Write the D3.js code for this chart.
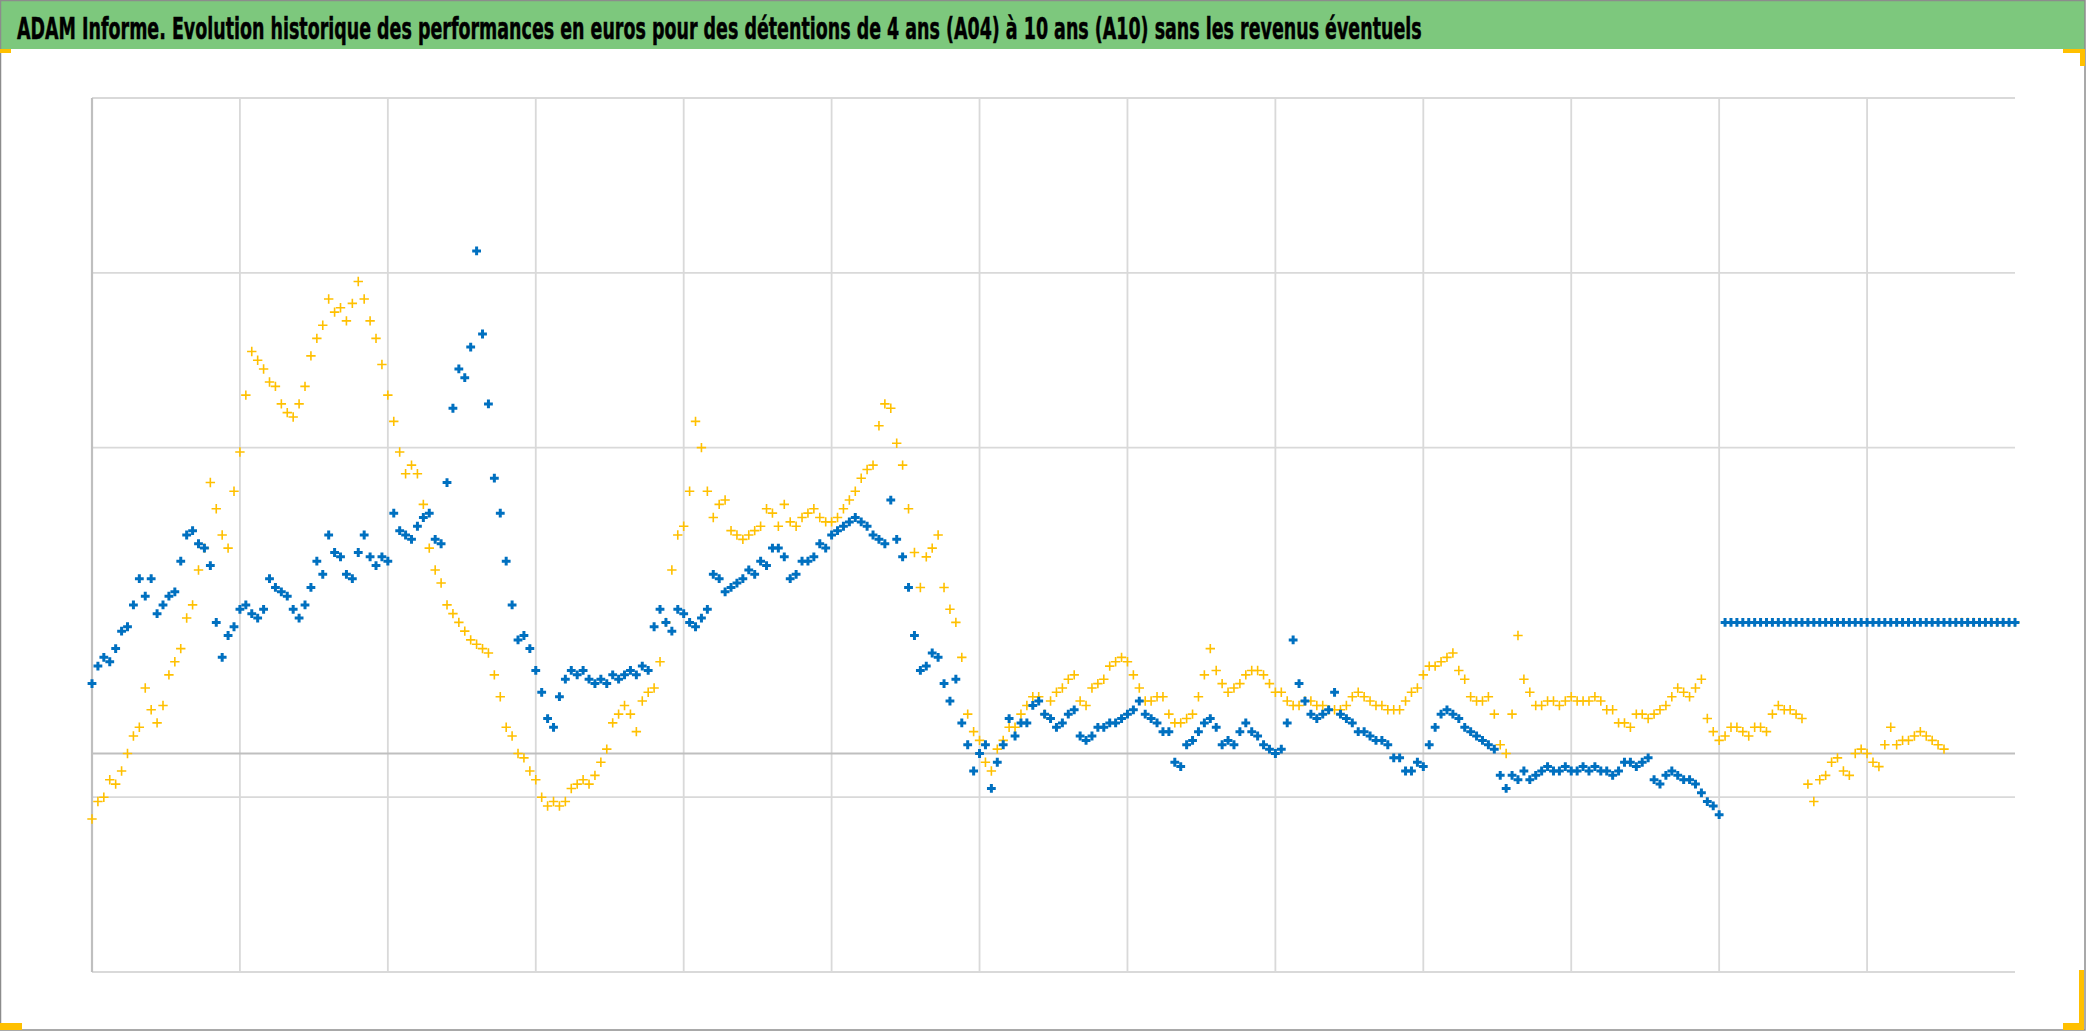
<!DOCTYPE html>
<html><head><meta charset="utf-8">
<script src="https://cdn.jsdelivr.net/npm/d3@7"></script>
<style>html,body{margin:0;padding:0;background:#fff;overflow:hidden}</style>
</head><body>
<svg id="chart" width="2086" height="1031"></svg>
<script>
// ---------- data ----------
const titleText = "ADAM Informe. Evolution historique des performances en euros pour des détentions de 4 ans (A04) à 10 ans (A10) sans les revenus éventuels";
const xDomain = [0, 13];
const xGridValues = [0, 1, 2, 3, 4, 5, 6, 7, 8, 9, 10, 11, 12];
const yDomain = [-50, 150];
const yGridValues = [-50, -10, 70, 110, 150];
const yAxisCross = 0;
const sampleStart = 0;
const sampleStep = 0.04;

// blue series
const seriesA04 = [
  16,20,22,21,24,28,29,34,40,36,40,32,34,36,37,44,50,51,48,47,43,30,22,27,29,
  33,34,32,31,33,40,38,37,36,33,31,34,38,44,41,50,46,45,41,40,46,50,45,43,45,
  44,55,51,50,49,52,54,55,49,48,62,79,88,86,93,115,96,80,63,55,44,34,26,27,24,
  19,14,8,6,13,17,19,18,19,17,16,17,16,18,17,18,19,18,20,19,29,33,30,28,33,
  32,30,29,31,33,41,40,37,38,39,40,42,41,44,43,47,47,45,40,41,44,44,45,48,47,
  50,51,52,53,54,53,52,50,49,48,58,49,45,38,27,19,20,23,22,16,12,17,7,2,-4,
  0,2,-8,-2,2,8,4,7,7,11,12,9,8,6,7,9,10,4,3,4,6,6,7,7,8,
  9,10,12,9,8,7,5,5,-2,-3,2,3,5,7,8,6,2,3,2,5,7,5,4,2,1,
  0,1,7,26,16,12,9,8,9,10,14,9,8,7,5,5,4,3,3,2,-1,-1,-4,-4,-2,
  -3,2,6,9,10,9,8,6,5,4,3,2,1,-5,-8,-5,-6,-4,-6,-5,-4,-3,-4,-4,-3,
  -4,-4,-3,-4,-3,-4,-4,-5,-4,-2,-2,-3,-2,-1,-6,-7,-5,-4,-5,-6,-6,-7,-9,-11,-12,
  -14,30,30,30,30,30,30,30,30,30,30,30,30,30,30,30,30,30,30,30,30,30,30,30,30,
  30,30,30,30,30,30,30,30,30,30,30,30,30,30,30,30,30,30,30,30,30,30,30,30,30,
  30
];
// yellow series
const seriesA10 = [
  -15,-11,-10,-6,-7,-4,0,4,6,15,10,7,11,18,21,24,31,34,42,47,62,56,50,47,60,
  69,82,92,90,88,85,84,80,78,77,80,84,91,95,98,104,101,102,99,103,108,104,99,95,89,
  82,76,69,64,66,64,57,47,42,39,34,32,30,28,26,25,24,23,18,13,6,4,0,-1,-4,
  -6,-10,-12,-11,-12,-11,-8,-7,-6,-7,-5,-2,1,7,9,11,9,5,12,14,15,21,30,42,50,
  52,60,76,70,60,54,57,58,51,50,49,50,51,52,56,55,52,57,53,52,54,55,56,54,53,
  53,54,56,58,60,63,65,66,75,80,79,71,66,56,46,38,45,47,50,38,33,30,22,9,5,
  3,-2,-4,1,3,6,6,9,11,13,13,9,12,14,15,17,18,12,11,15,16,17,20,21,22,
  21,18,15,12,12,13,13,9,7,7,8,9,13,18,24,19,16,14,15,16,18,19,19,18,16,
  14,14,12,11,11,12,12,11,11,10,10,10,11,13,14,13,12,11,11,10,10,10,12,14,15,
  18,20,20,21,22,23,19,17,13,12,12,13,9,2,0,9,27,17,14,11,11,12,12,11,12,
  13,12,12,12,13,12,10,10,7,7,6,9,9,8,9,10,11,13,15,14,13,15,17,8,5,
  3,4,6,6,5,4,6,6,5,9,11,10,10,9,8,-7,-11,-6,-5,-2,-1,-4,-5,0,1,
  0,-2,-3,2,6,2,3,3,4,5,4,3,2,1,30,30,30,30,30,30,30,30,30,30,30,
  30
];

// ---------- drawing ----------
const W = 2086, H = 1031;
const svg = d3.select("#chart");
const plot = {left: 92, right: 2015, top: 98, bottom: 972};
const x = d3.scaleLinear().domain(xDomain).range([plot.left, plot.right]);
const y = d3.scaleLinear().domain(yDomain).range([plot.bottom, plot.top]);

svg.append("rect").attr("width", W).attr("height", H).attr("fill", "#fff");

// gridlines
const grid = svg.append("g");
grid.selectAll("line.h").data(yGridValues).join("line")
  .attr("x1", plot.left).attr("x2", plot.right)
  .attr("y1", d => y(d)).attr("y2", d => y(d))
  .attr("stroke", "#d9d9d9").attr("stroke-width", 1.8);
grid.selectAll("line.v").data(xGridValues.filter(v => v !== xDomain[0])).join("line")
  .attr("x1", d => x(d)).attr("x2", d => x(d))
  .attr("y1", plot.top).attr("y2", plot.bottom)
  .attr("stroke", "#d9d9d9").attr("stroke-width", 1.8);
// axes lines
svg.append("line").attr("x1", x(xDomain[0])).attr("x2", x(xDomain[0]))
  .attr("y1", plot.top).attr("y2", plot.bottom)
  .attr("stroke", "#bfbfbf").attr("stroke-width", 2.2);
svg.append("line").attr("x1", plot.left).attr("x2", plot.right)
  .attr("y1", y(yAxisCross)).attr("y2", y(yAxisCross))
  .attr("stroke", "#bfbfbf").attr("stroke-width", 2.2);

function drawSeries(values, color, half, sw) {
  const pts = values.map((v, i) => ({x: sampleStart + i * sampleStep, y: v}));
  svg.append("g").selectAll("path").data(pts).join("path")
    .attr("transform", d => `translate(${x(d.x)},${y(d.y)})`)
    .attr("d", `M${-half},0H${half}M0,${-half}V${half}`)
    .attr("stroke", color).attr("stroke-width", sw).attr("fill", "none");
}
drawSeries(seriesA10, "#ffc000", 4.7, 1.6);
drawSeries(seriesA04, "#0070c0", 4.4, 3);

// title bar
svg.append("rect").attr("x", 1).attr("y", 1).attr("width", W - 2).attr("height", 48)
  .attr("fill", "#7dc87d");
const title = svg.append("text").attr("x", 0).attr("y", 0)
  .attr("font-family", "'Liberation Sans Narrow','DejaVu Sans Condensed','Arial Narrow',sans-serif")
  .attr("font-weight", "bold").attr("font-size", 31).attr("fill", "#000")
  .attr("stroke", "#000").attr("stroke-width", 0.5)
  .text(titleText);
const natural = title.node().getComputedTextLength();
const sx = Math.min(1, 1405 / natural);
title.attr("transform", `translate(17,39) scale(${sx},1)`);

// outer frame
svg.append("rect").attr("x", 0.5).attr("y", 0.5).attr("width", W - 1.5).attr("height", H - 1.5)
  .attr("fill", "none").attr("stroke", "#8c8c8c").attr("stroke-width", 1.5);

// selection corner marks
const corners = [
  [0, 49, 11, 4], [2063, 49, 22, 4], [2080, 49, 5, 17],
  [0, 1023, 22, 7], [2079, 970, 5, 60], [2063, 1023, 21, 7]
];
svg.append("g").selectAll("rect").data(corners).join("rect")
  .attr("x", d => d[0]).attr("y", d => d[1]).attr("width", d => d[2]).attr("height", d => d[3])
  .attr("fill", "#ffc000");
</script>
</body></html>
